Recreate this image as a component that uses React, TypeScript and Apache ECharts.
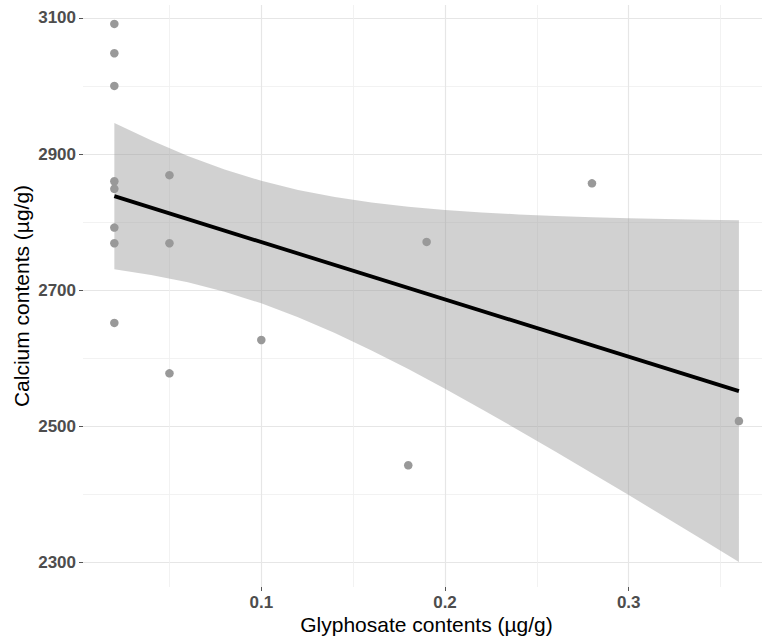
import React, { useEffect, useRef } from "react";
import * as echarts from "echarts";

// Observations
const glyphosate = [0.02, 0.02, 0.02, 0.02, 0.02, 0.02, 0.02, 0.02, 0.05, 0.05, 0.05, 0.1, 0.18, 0.19, 0.28, 0.36];
const calcium = [3091, 3048, 3000, 2860, 2849, 2792, 2769, 2652, 2869, 2769, 2578, 2627, 2443, 2771, 2857, 2508];

// Fitted regression line (end points)
const fitX = [0.02, 0.36];
const fitY = [2838.1, 2551.9];

// Confidence band
const bandX = [0.02, 0.04, 0.06, 0.08, 0.1, 0.12, 0.14, 0.16, 0.18, 0.2, 0.22, 0.24, 0.26, 0.28, 0.3, 0.32, 0.34, 0.36];
const bandLo = [2730.7, 2722.4, 2711.6, 2697.9, 2680.8, 2660.5, 2637.3, 2611.7, 2584.2, 2555.3, 2525.3, 2494.6, 2463.2, 2431.4, 2399.2, 2366.7, 2334.0, 2301.0];
const bandHi = [2945.4, 2920.1, 2897.2, 2877.3, 2860.7, 2847.3, 2836.8, 2828.8, 2822.6, 2817.9, 2814.2, 2811.3, 2809.0, 2807.2, 2805.7, 2804.5, 2803.6, 2802.8];

// Ticks and grid
const xTickValues = [0.1, 0.2, 0.3];
const yTickValues = [2300, 2500, 2700, 2900, 3100];
const xMinorGrid = [0.05, 0.15, 0.25, 0.35];
const yMinorGrid = [2400, 2600, 2800, 3000];

const xTitle = "Glyphosate contents (µg/g)";
const yTitle = "Calcium contents (µg/g)";

export default function App() {
  const ref = useRef<HTMLDivElement>(null);

  useEffect(() => {
    if (!ref.current) return;
    const chart = echarts.init(ref.current, undefined, { renderer: "svg" });

    const majorLine = { color: "#e6e6e6", width: 1.2, type: "solid" };
    const minorLine = { color: "#efefef", width: 0.8, type: "solid" };
    const gridLines: any[] = [
      ...yTickValues.map((v) => ({ yAxis: v, lineStyle: majorLine })),
      ...yMinorGrid.map((v) => ({ yAxis: v, lineStyle: minorLine })),
      ...xTickValues.map((v) => ({ xAxis: v, lineStyle: majorLine })),
      ...xMinorGrid.map((v) => ({ xAxis: v, lineStyle: minorLine })),
    ];

    const bandData = bandX.map((x, i) => [x, bandLo[i], bandHi[i]]);

    const tickFont = {
      fontFamily: "Liberation Sans, Arial, sans-serif",
      fontWeight: "bold",
      fontSize: 17,
      color: "#4d4d4d",
    };

    chart.setOption({
      animation: false,
      backgroundColor: "#ffffff",
      grid: { left: 83, right: 0, top: 5, bottom: 54, containLabel: false },
      xAxis: {
        type: "value",
        min: 0.00294,
        max: 0.37256,
        axisLine: { show: false, onZero: false },
        axisTick: { show: true, length: 4, customValues: xTickValues, lineStyle: { color: "#555", width: 1 } },
        axisLabel: { ...tickFont, margin: 7, customValues: xTickValues, formatter: (v: number) => String(v) },
        splitLine: { show: false },
      },
      yAxis: {
        type: "value",
        min: 2264.3,
        max: 3118.8,
        axisLine: { show: false, onZero: false },
        axisTick: { show: true, length: 4, customValues: yTickValues, lineStyle: { color: "#555", width: 1 } },
        axisLabel: { ...tickFont, margin: 7, customValues: yTickValues, formatter: (v: number) => String(v) },
        splitLine: { show: false },
      },
      graphic: [
        {
          type: "text",
          x: 426.5,
          y: 624,
          style: {
            text: xTitle,
            fontFamily: "Liberation Sans, Arial, sans-serif",
            fontSize: 21,
            fill: "#000",
            align: "center",
            verticalAlign: "middle",
          },
        },
        {
          type: "text",
          x: 21,
          y: 296,
          rotation: Math.PI / 2,
          style: {
            text: yTitle,
            fontFamily: "Liberation Sans, Arial, sans-serif",
            fontSize: 21,
            fill: "#000",
            align: "center",
            verticalAlign: "middle",
          },
        },
      ],
      series: [
        {
          type: "line",
          data: [],
          z: 1,
          silent: true,
          markLine: {
            silent: true,
            symbol: ["none", "none"],
            label: { show: false },
            z: 1,
            animation: false,
            data: gridLines,
          },
        },
        {
          type: "scatter",
          data: glyphosate.map((x, i) => [x, calcium[i]]),
          symbol: "circle",
          symbolSize: 8.5,
          itemStyle: { color: "#999999", opacity: 1 },
          z: 2,
          silent: true,
        },
        {
          type: "custom",
          data: bandData,
          encode: { x: 0, y: [1, 2] },
          z: 3,
          silent: true,
          renderItem: (params: any, api: any) => {
            if (params.dataIndex !== 0) return null;
            const pts: number[][] = [];
            for (let i = 0; i < bandX.length; i++) pts.push(api.coord([bandX[i], bandHi[i]]));
            for (let i = bandX.length - 1; i >= 0; i--) pts.push(api.coord([bandX[i], bandLo[i]]));
            return {
              type: "polygon",
              shape: { points: pts },
              style: { fill: "rgba(153,153,153,0.45)", stroke: "none" },
            };
          },
        },
        {
          type: "line",
          data: fitX.map((x, i) => [x, fitY[i]]),
          symbol: "none",
          lineStyle: { color: "#000000", width: 3.8 },
          z: 4,
          silent: true,
        },
      ],
    });

    return () => chart.dispose();
  }, []);

  return (
    <div
      ref={ref}
      style={{ position: "absolute", left: 0, top: 0, width: 762, height: 641 }}
    />
  );
}
